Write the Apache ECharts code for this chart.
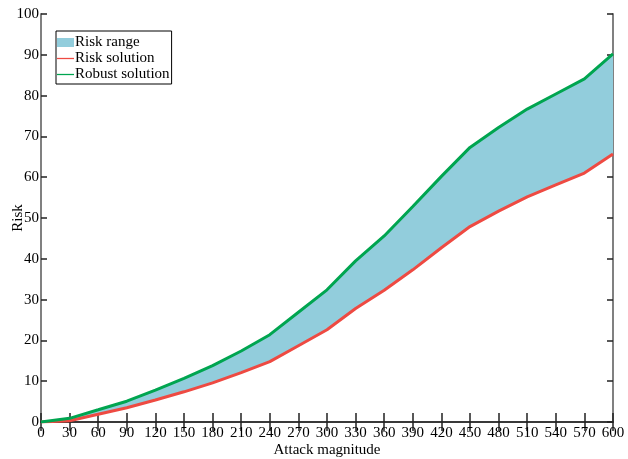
<!DOCTYPE html>
<html lang="en">
<head>
    <meta charset="UTF-8">
    <title>Risk</title>
    <script src="https://cdn.jsdelivr.net/npm/echarts@6/dist/echarts.min.js"></script>
</head>
<body style="margin:0">
<div id="chart" style="width: 628px; height: 459px;"></div>
<script>
    // values
    var magnitude = ['0', '30', '60', '90', '120', '150', '180', '210', '240', '270', '300', '330', '360', '390', '420', '450', '480', '510', '540', '570', '600'];
    var riskSolution = [0, 0.3, 1.9, 3.5, 5.4, 7.4, 9.6, 12.1, 14.8, 18.7, 22.6, 27.8, 32.3, 37.3, 42.7, 47.9, 51.7, 55.2, 58.1, 61.0, 65.7];
    var robustSolution = [0, 0.9, 3.0, 5.1, 7.8, 10.7, 13.8, 17.4, 21.4, 26.9, 32.4, 39.5, 45.6, 52.8, 60.2, 67.3, 72.2, 76.7, 80.4, 84.1, 90.2];

    var font = 'Liberation Serif';
    var range = [];
    for (var i = 0; i < riskSolution.length; i++) {
        range.push(+(robustSolution[i] - riskSolution[i]).toFixed(2));
    }

    var chart = echarts.init(document.getElementById('chart'));
    var xTick = {inside: true, length: 9, lineStyle: {color: '#222', width: 1.5}};
    var yTick = {show: true, inside: true, length: 6, lineStyle: {color: '#222', width: 1.5}};
    var lineIcon = 'path://M0 0H20V1.5H0Z';
    var option = {
        animation: false,
        grid: {left: 41, right: 15, top: 14, bottom: 37, outerBoundsMode: 'none', containLabel: false},
        legend: {
            left: 56, top: 31,
            orient: 'vertical',
            itemGap: 1,
            itemWidth: 17, itemHeight: 9,
            padding: [4, 2, 2, 1],
            borderColor: '#000', borderWidth: 1,
            backgroundColor: '#fff',
            textStyle: {fontFamily: font, fontSize: 15, color: '#000', padding: [0, 0, 0, -4]},
            data: [
                {name: 'Risk range', icon: 'rect'},
                {name: 'Risk solution', icon: lineIcon},
                {name: 'Robust solution', icon: lineIcon}
            ]
        },
        xAxis: [{
            type: 'category', data: magnitude, boundaryGap: false,
            name: 'Attack magnitude', nameLocation: 'middle', nameGap: 21, nameMoveOverlap: false,
            nameTextStyle: {fontFamily: font, fontSize: 15, color: '#000'},
            axisLine: {lineStyle: {color: '#808080', width: 2}},
            axisTick: xTick,
            axisLabel: {fontFamily: font, fontSize: 15, color: '#000', margin: 4, interval: 0},
            splitLine: {show: false}
        }, {
            type: 'category', data: magnitude, boundaryGap: false, position: 'top',
            axisLine: {show: true, lineStyle: {color: '#222', width: 1.5}},
            axisTick: xTick,
            axisLabel: {show: false},
            splitLine: {show: false}
        }],
        yAxis: [{
            type: 'value', min: 0, max: 100, interval: 10,
            name: 'Risk', nameLocation: 'middle', nameGap: 15, nameMoveOverlap: false,
            nameTextStyle: {fontFamily: font, fontSize: 15, color: '#000'},
            axisLine: {show: true, lineStyle: {color: '#808080', width: 2}},
            axisTick: yTick,
            axisLabel: {fontFamily: font, fontSize: 15, color: '#000', margin: 2},
            splitLine: {show: false}
        }, {
            type: 'value', min: 0, max: 100, interval: 10, position: 'right',
            axisLine: {show: true, lineStyle: {color: '#808080', width: 2}},
            axisTick: yTick,
            axisLabel: {show: false},
            splitLine: {show: false}
        }],
        series: [
            {
                name: 'lower', type: 'line', stack: 'band', data: riskSolution,
                symbol: 'none', lineStyle: {width: 0}, silent: true
            },
            {
                name: 'Risk range', type: 'line', stack: 'band', data: range,
                symbol: 'none', lineStyle: {width: 0},
                itemStyle: {color: '#92CDDC'},
                areaStyle: {color: '#92CDDC', opacity: 1}
            },
            {
                name: 'Risk solution', type: 'line', data: riskSolution,
                symbol: 'none', lineStyle: {color: '#EE4A42', width: 3},
                itemStyle: {color: '#EE4A42'}
            },
            {
                name: 'Robust solution', type: 'line', data: robustSolution,
                symbol: 'none', lineStyle: {color: '#00A550', width: 3},
                itemStyle: {color: '#00A550'}
            }
        ]
    };
    chart.setOption(option);
</script>
</body>
</html>
